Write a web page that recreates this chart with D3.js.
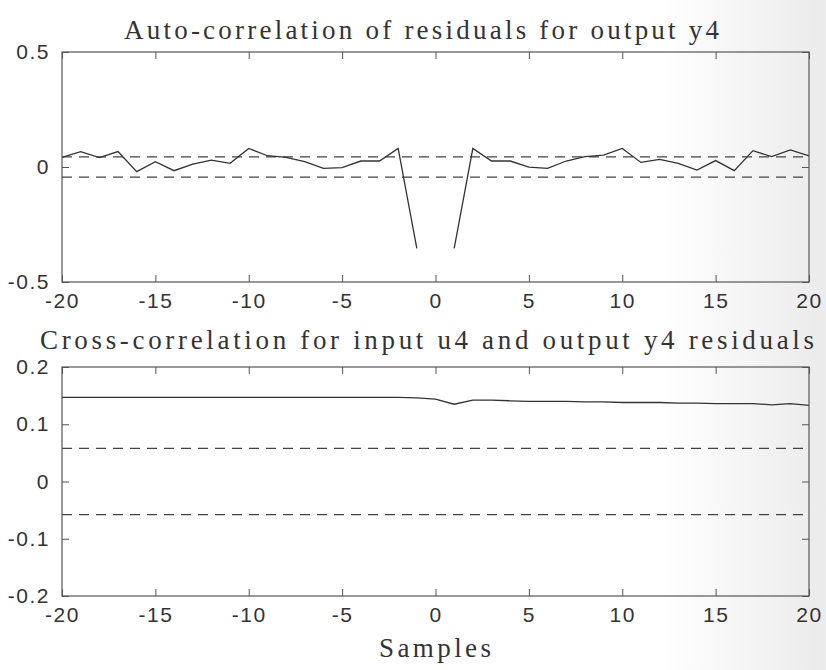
<!DOCTYPE html>
<html>
<head>
<meta charset="utf-8">
<script src="https://cdnjs.cloudflare.com/ajax/libs/d3/7.8.5/d3.min.js"></script>
<style>
  body { margin: 0; background: #fff; }
  svg { display: block; }
  .tick text { font-family: "Liberation Sans", Arial, sans-serif; font-size: 21px; fill: #333; letter-spacing: 1.5px; }
  .tick line { stroke: #555; }
  .title { font-family: "Liberation Serif", "Times New Roman", serif; font-size: 27px; fill: #333; }
</style>
</head>
<body>
<svg width="826" height="670"></svg>
<script>
var lags = d3.range(-20, 21);

// auto-correlation, lag 0 left out of the plot
var autoNeg = [0.042, 0.067, 0.041, 0.067, -0.020, 0.023, -0.016, 0.012, 0.030, 0.016,
               0.081, 0.049, 0.042, 0.023, -0.006, -0.003, 0.026, 0.026, 0.081, -0.354];
var autoPos = [-0.354, 0.081, 0.026, 0.026, -0.001, -0.006, 0.026, 0.045, 0.052, 0.081,
               0.020, 0.033, 0.016, -0.013, 0.028, -0.016, 0.071, 0.045, 0.074, 0.048];

// cross-correlation u4 / y4
var crossVals = [0.147, 0.147, 0.147, 0.147, 0.147, 0.147, 0.147, 0.147, 0.147, 0.147,
                 0.147, 0.147, 0.147, 0.147, 0.147, 0.147, 0.147, 0.147, 0.147, 0.146,
                 0.144, 0.135, 0.142, 0.142, 0.141, 0.140, 0.140, 0.140, 0.139, 0.139,
                 0.138, 0.138, 0.138, 0.137, 0.137, 0.136, 0.136, 0.136, 0.134, 0.136, 0.133];

var autoConf = 0.044, crossConf = 0.058;
var xTicks = [-20, -15, -10, -5, 0, 5, 10, 15, 20];
var autoTicks = [-0.5, 0, 0.5];
var crossTicks = [-0.2, -0.1, 0, 0.1, 0.2];

var svg = d3.select('svg');

// slight grey of the scan on the right side
var grad = svg.append('defs').append('linearGradient').attr('id', 'scan');
grad.append('stop').attr('offset', '0.8').attr('stop-color', '#ffffff');
grad.append('stop').attr('offset', '1').attr('stop-color', '#ebebeb');
svg.append('rect').attr('width', 826).attr('height', 670).attr('fill', 'url(#scan)');

var left = 62, right = 809;
var x = d3.scaleLinear().domain([-20, 20]).range([left, right]);
var fmt = function(d) { return String(d); };

var drawPanel = function(top, bottom, yDomain, yTicks, values, conf) {
  var y = d3.scaleLinear().domain(yDomain).range([bottom, top]);
  var g = svg.append('g');

  [conf, -conf].forEach(function(c) {
    g.append('line')
      .attr('x1', x(-20)).attr('x2', x(20))
      .attr('y1', y(c)).attr('y2', y(c))
      .attr('stroke', '#444').attr('stroke-width', 1.2)
      .attr('stroke-dasharray', '10,7');
  });

  var line = d3.line()
      .defined(function(d) { return d != null; })
      .x(function(d, i) { return x(lags[i]); })
      .y(function(d) { return y(d); });

  g.append('path').datum(values)
    .attr('d', line)
    .attr('fill', 'none')
    .attr('stroke', '#333')
    .attr('stroke-width', 1.3);

  var clean = function(a) { a.select('.domain').remove(); };

  g.append('g').attr('transform', 'translate(0,' + bottom + ')')
    .call(d3.axisBottom(x).tickValues(xTicks).tickSize(-7).tickPadding(11).tickFormat(fmt)).call(clean);
  g.append('g').attr('transform', 'translate(0,' + top + ')')
    .call(d3.axisTop(x).tickValues(xTicks).tickSize(-7).tickFormat('')).call(clean);
  g.append('g').attr('transform', 'translate(' + left + ',0)')
    .call(d3.axisLeft(y).tickValues(yTicks).tickSize(-7).tickPadding(12).tickFormat(fmt)).call(clean);
  g.append('g').attr('transform', 'translate(' + right + ',0)')
    .call(d3.axisRight(y).tickValues(yTicks).tickSize(-7).tickFormat('')).call(clean);

  g.append('rect')
    .attr('x', left).attr('y', top)
    .attr('width', right - left).attr('height', bottom - top)
    .attr('fill', 'none').attr('stroke', '#555').attr('stroke-width', 1.2);
};

drawPanel(52, 282, [-0.5, 0.5], autoTicks, autoNeg.concat([null], autoPos), autoConf);
drawPanel(367, 596, [-0.2, 0.2], crossTicks, crossVals, crossConf);

var title = function(txt, x0, base, len) {
  svg.append('text').attr('class', 'title')
    .attr('x', x0).attr('y', base)
    .attr('textLength', len).attr('lengthAdjust', 'spacing')
    .text(txt);
};
title('Auto-correlation of residuals for output y4', 124, 39, 595);
title('Cross-correlation for input u4 and output y4 residuals', 40, 349, 774);
title('Samples', 379, 657, 112);
</script>
</body>
</html>
